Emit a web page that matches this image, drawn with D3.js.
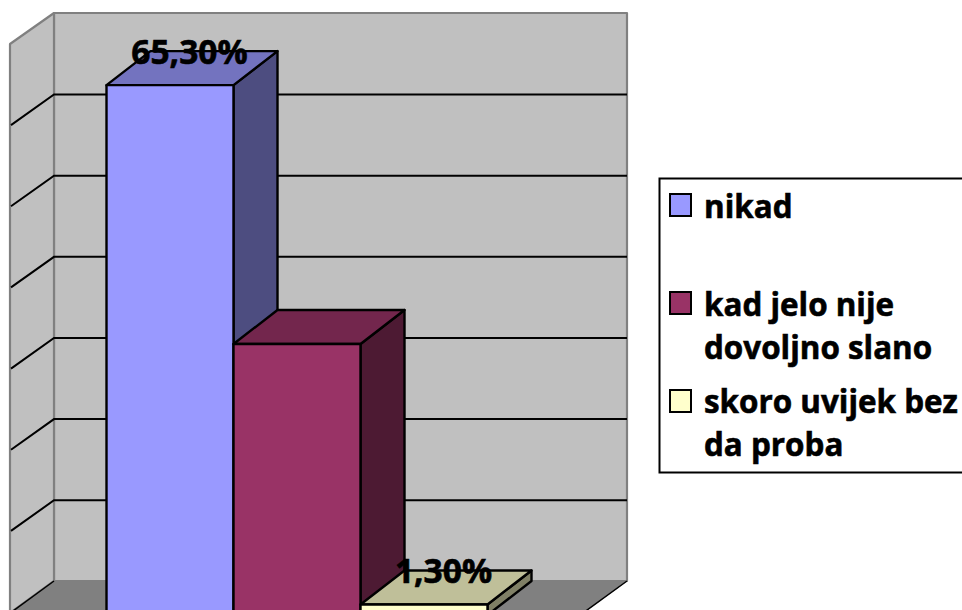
<!DOCTYPE html>
<html><head><meta charset="utf-8">
<script src="https://cdn.jsdelivr.net/npm/d3@7/dist/d3.min.js"></script>
<style>html,body{margin:0;padding:0;background:#fff;overflow:hidden}svg{display:block}text{font-family:"Open Sans",Lato,sans-serif;font-weight:700;fill:#000;stroke:#000;stroke-width:.6px}</style>
</head><body><svg id="c" width="962" height="610"></svg>
<script>
const seriesNames = ["nikad", "kad jelo nije dovoljno slano", "skoro uvijek bez da proba"];
const seriesValues = [65.3, 33.4, 1.3];
const valueLabels = ["65,30%", "", "1,30%"];
const legendLines = [["nikad"], ["kad jelo nije", "dovoljno slano"], ["skoro uvijek bez", "da proba"]];
const seriesColors = ["#9999FF", "#993366", "#FFFFCC"];
const axisMax = 70, tickCount = 7;

const svg = d3.select("#c");
const wall = {x0: 54, x1: 627, y0: 13, y1: 581, dx: 44, dy: 32};
const barDy = 34;
const y = d3.scaleLinear().domain([0, axisMax]).range([wall.y1, wall.y0]);
const x = d3.scaleBand().domain(seriesNames).range([106.5, 487.5]);
const line = d3.line();
const poly = (pts, fill, stroke, sw) => svg.append("path").attr("d", line(pts) + "Z")
  .attr("fill", fill).attr("stroke", stroke || "none").attr("stroke-width", sw || 0).attr("stroke-linejoin", "round");

// walls and floor
poly([[wall.x0, wall.y0], [wall.x1, wall.y0], [wall.x1, wall.y1], [wall.x0, wall.y1]], "#C0C0C0", "#808080", 2.2);
poly([[wall.x0, wall.y0], [wall.x0 - wall.dx, wall.y0 + wall.dy - 1], [wall.x0 - wall.dx, wall.y1 + wall.dy], [wall.x0, wall.y1]], "#C0C0C0", "#808080", 2.2);
poly([[wall.x0, wall.y1], [wall.x1, wall.y1], [wall.x1 - wall.dx, wall.y1 + wall.dy], [wall.x0 - wall.dx, wall.y1 + wall.dy]], "#808080", "#808080", 1);
svg.append("path").attr("fill", "none").attr("stroke", "#000").attr("stroke-width", 1.5)
  .attr("d", line([[wall.x0 - wall.dx + 3, wall.y1 + wall.dy - 2], [wall.x0, wall.y1]]));
svg.append("path").attr("fill", "none").attr("stroke", "#000").attr("stroke-width", 1.5)
  .attr("d", line([[wall.x1, wall.y1], [wall.x1 - wall.dx, wall.y1 + wall.dy]]));

// gridlines
y.ticks(tickCount).filter(t => t > 0 && t < axisMax).forEach(t => {
  svg.append("path").attr("fill", "none").attr("stroke", "#000").attr("stroke-width", 2)
    .attr("d", line([[wall.x0 - wall.dx + 1, y(t) + wall.dy - 1], [wall.x0, y(t) + 0.4], [wall.x1, y(t) + 0.4]]));
});

// bars
seriesNames.forEach((n, i) => {
  const c = d3.color(seriesColors[i]);
  const shade = k => d3.rgb(c.r * k, c.g * k, c.b * k).formatHex();
  const xl = x(n), xr = xl + x.bandwidth(), yb = y(seriesValues[i]), y0 = y(0);
  const d = wall.dx;
  poly([[xr, yb + barDy], [xr + d, yb], [xr + d, y0], [xr, y0 + barDy]], shade(0.5), "#000", 2.4);
  poly([[xl, yb + barDy], [xl + d, yb], [xr + d, yb], [xr, yb + barDy]], shade(0.75), "#000", 2.4);
  poly([[xl, yb + barDy], [xr, yb + barDy], [xr, y0 + barDy], [xl, y0 + barDy]], seriesColors[i], "#000", 2.4);
});

// value labels
seriesNames.forEach((n, i) => {
  if (!valueLabels[i]) return;
  svg.append("text").text(valueLabels[i]).attr("text-anchor", "middle")
    .attr("x", x(n) + x.bandwidth() / 2 + 19.5).attr("y", y(seriesValues[i]) + 12.5).attr("font-size", 33.5);
});

// legend
svg.append("rect").attr("x", 659.5).attr("y", 178.5).attr("width", 320).attr("height", 294)
  .attr("fill", "#fff").attr("stroke", "#000").attr("stroke-width", 2);
const swatchY = [194, 292, 390], baseY = [218, 316, 413], lineH = 43;
legendLines.forEach((ls, i) => {
  svg.append("rect").attr("x", 670).attr("y", swatchY[i]).attr("width", 21).attr("height", 22)
    .attr("fill", seriesColors[i]).attr("stroke", "#000").attr("stroke-width", 2);
  ls.forEach((s, j) => svg.append("text").text(s).attr("x", 704).attr("y", baseY[i] + j * lineH).attr("font-size", 31.4));
});
</script></body></html>
